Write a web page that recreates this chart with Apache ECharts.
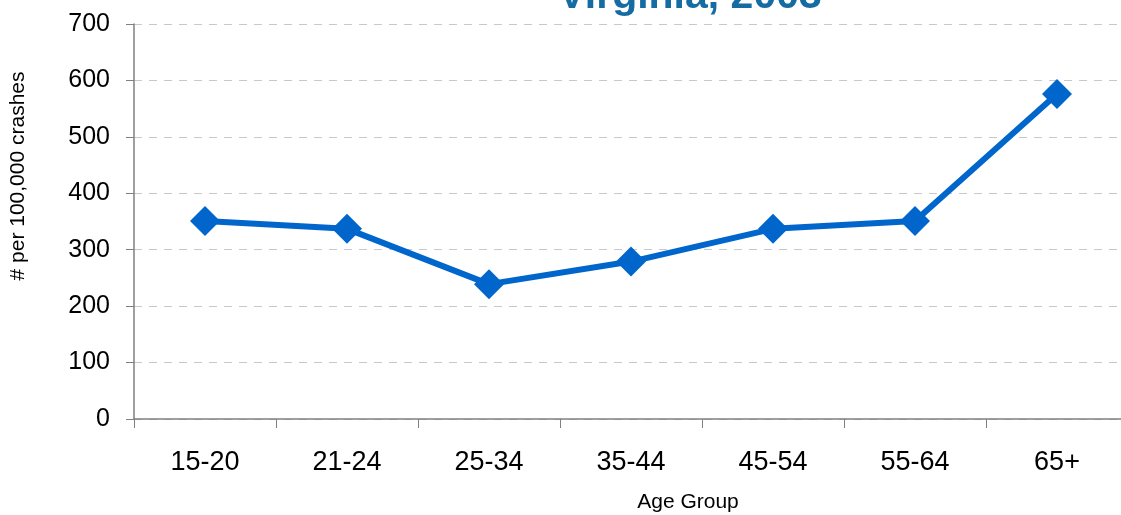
<!DOCTYPE html>
<html><head><meta charset="utf-8">
<script src="https://cdn.jsdelivr.net/npm/echarts@6/dist/echarts.min.js"></script>
<style>html,body{margin:0;padding:0;background:#fff}#c{width:1121px;height:515px}</style>
</head><body><div id="c"></div>
<script>
const titleText = 'Virginia, 2003';
const yAxisName = '# per 100,000 crashes';
const xAxisName = 'Age Group';
const categories = ['15-20','21-24','25-34','35-44','45-54','55-64','65+'];
const values = [351, 337, 239, 279, 337, 351, 576];
const yTicks = {min: 0, max: 700, interval: 100};

const chart = echarts.init(document.getElementById('c'));
chart.setOption({
  animation: false,
  title: {
    text: titleText, left: 685, top: -29, textAlign: 'center',
    textStyle: {fontFamily: 'Liberation Sans, Arial', fontWeight: 'bold', fontSize: 41, color: '#156ca3'}
  },
  graphic: [{
    type: 'text', x: 18, y: 176, rotation: Math.PI / 2,
    style: {text: yAxisName, fontFamily: 'Liberation Sans, Arial', fontSize: 21, fill: '#000',
            align: 'center', verticalAlign: 'middle'}
  }, {
    type: 'text', x: 688, y: 502,
    style: {text: xAxisName, fontFamily: 'Liberation Sans, Arial', fontSize: 21, fill: '#000',
            align: 'center', verticalAlign: 'middle'}
  }],
  grid: {left: 134, top: 24, width: 994, height: 395, outerBoundsMode: 'none', containLabel: false},
  xAxis: {
    type: 'category', data: categories, boundaryGap: true,
    axisLine: {lineStyle: {color: '#808080', width: 1.5}},
    axisTick: {show: true, length: 9, lineStyle: {color: '#808080'}},
    axisLabel: {fontFamily: 'Liberation Sans, Arial', fontSize: 27, color: '#000', margin: 30},
    splitLine: {show: false}
  },
  yAxis: {
    type: 'value', min: yTicks.min, max: yTicks.max, interval: yTicks.interval,
    axisLine: {show: true, lineStyle: {color: '#808080', width: 1.5}},
    axisTick: {show: true, length: 8, lineStyle: {color: '#808080'}},
    axisLabel: {fontFamily: 'Liberation Sans, Arial', fontSize: 25, color: '#000', margin: 24},
    splitLine: {show: true, lineStyle: {color: '#c8c8c8', type: [8, 7], width: 1}}
  },
  series: [{
    type: 'line', data: values,
    symbol: 'diamond', symbolSize: 30,
    lineStyle: {color: '#0066cc', width: 6},
    itemStyle: {color: '#0066cc'}
  }]
});
</script></body></html>
